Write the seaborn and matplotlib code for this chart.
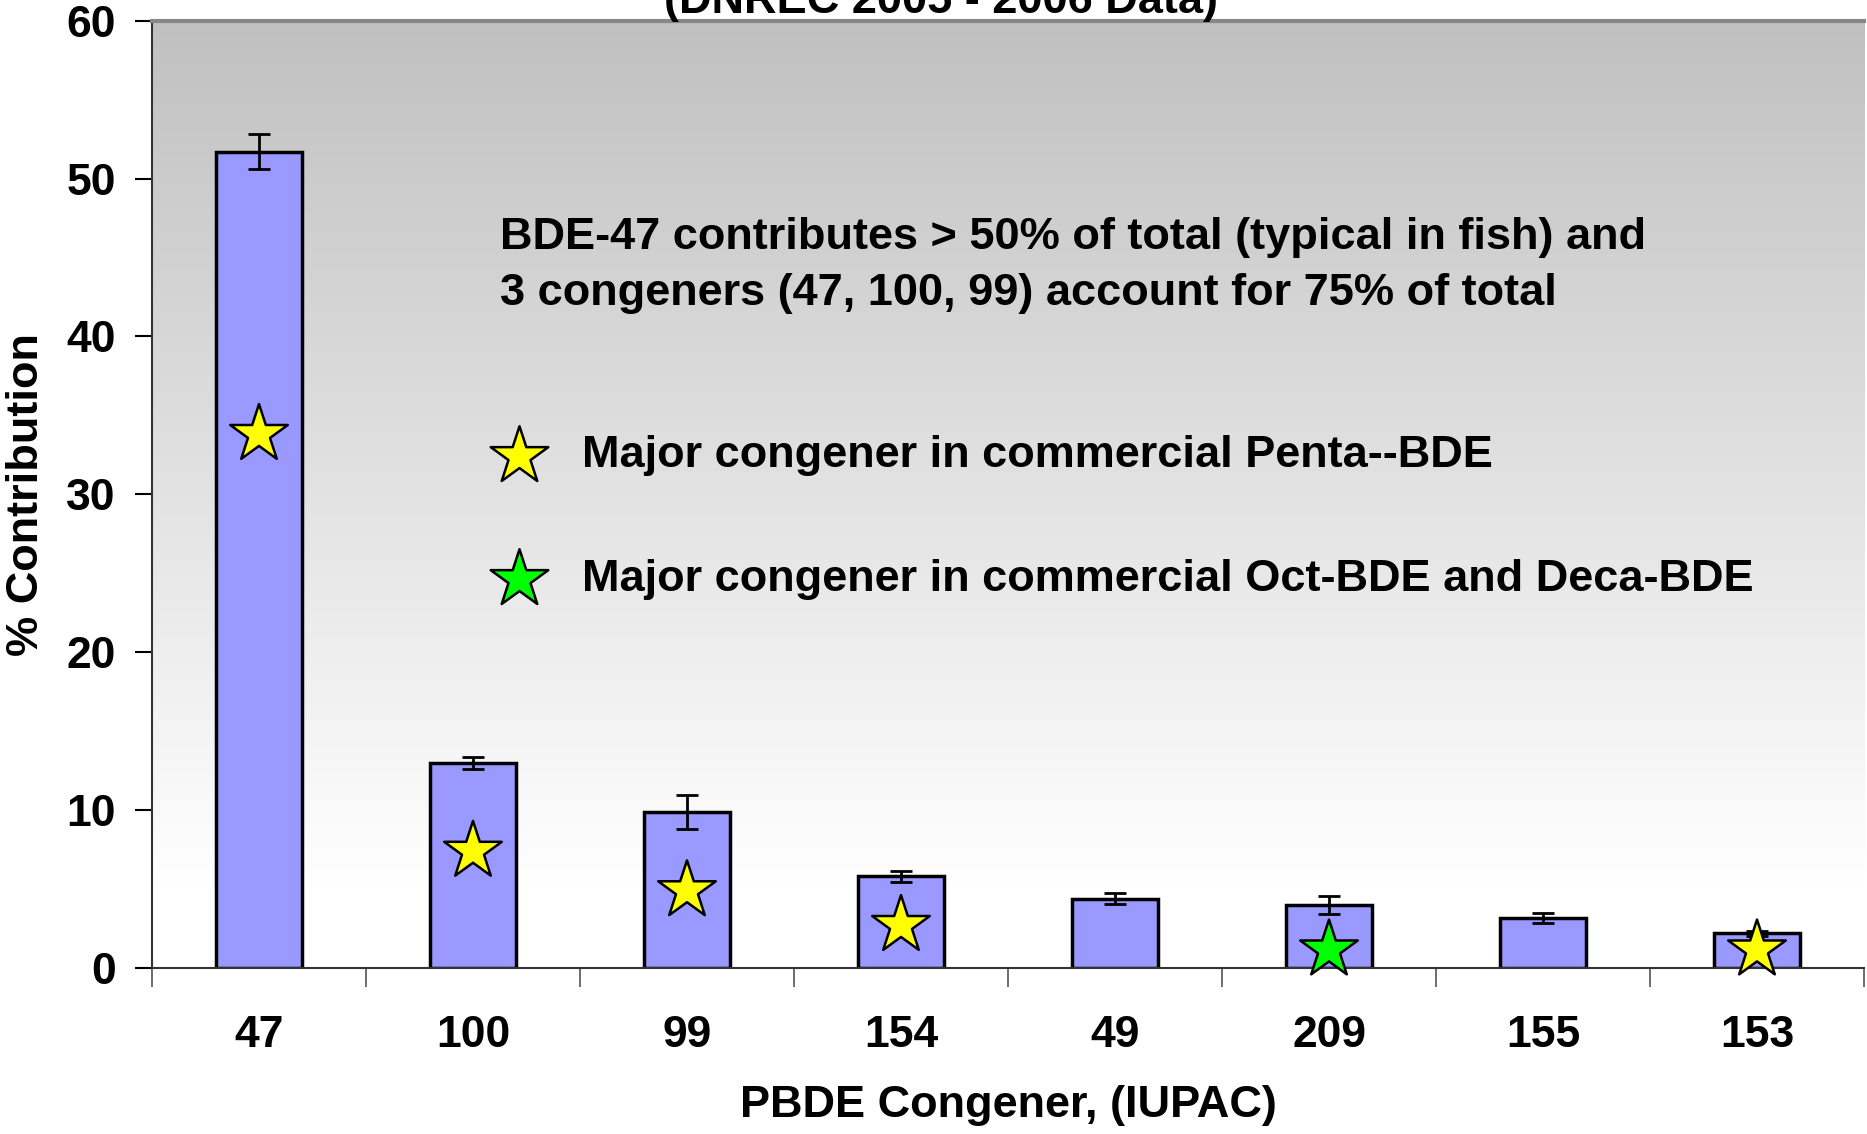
import numpy as np
import pandas as pd
import matplotlib
matplotlib.use("Agg")
import matplotlib.pyplot as plt
import seaborn as sns

congeners = ["47", "100", "99", "154", "49", "209", "155", "153"]
contribution = [51.7, 13.0, 9.9, 5.8, 4.4, 4.0, 3.15, 2.2]
error = [1.1, 0.37, 1.08, 0.35, 0.34, 0.58, 0.33, 0.15]
star_congeners = ["47", "100", "99", "154", "209", "153"]
star_values = [33.8, 7.4, 4.9, 2.7, 1.15, 1.15]
star_kind = ["Penta", "Penta", "Penta", "Penta", "OctaDeca", "Penta"]

sns.set_theme(style="white")
plt.rcParams['font.family'] = ['Liberation Sans', 'DejaVu Sans']
plt.rcParams['font.weight'] = 'bold'
plt.rcParams['text.color'] = 'black'
plt.rcParams['axes.labelcolor'] = 'black'
plt.rcParams['xtick.color'] = 'black'
plt.rcParams['ytick.color'] = 'black'

FS = 32.5

fig = plt.figure(figsize=(18.67, 11.34), dpi=100)
ax = fig.add_axes([152/1867, 1-968/1134, (1864-152)/1867, (968-20.7)/1134])

# gradient background
yy = np.linspace(60, 0, 600)
g = 192 + (255-192) * np.clip((60 - yy) / (60 - 5.3), 0, 1)
img = np.repeat(g[:, None], 2, axis=1) / 255.0
ax.imshow(np.dstack([img, img, img]), extent=[-0.5, 7.5, 0, 60], aspect='auto', zorder=0, interpolation='bilinear')

df = pd.DataFrame({"congener": congeners, "value": contribution})
sns.barplot(data=df, x="congener", y="value", order=congeners, color="#9999FF",
            width=0.4, edgecolor="black", linewidth=2.5, saturation=1, ax=ax, zorder=2)
for p in ax.patches:
    p.set_facecolor("#9999FF")

xpos = np.arange(len(congeners))
ax.errorbar(xpos, contribution, yerr=error, fmt='none', ecolor='black', elinewidth=2,
            capsize=8, capthick=2, zorder=3)

colors = {"Penta": "#FFFF00", "OctaDeca": "#00FF00"}
sx = [congeners.index(c) for c in star_congeners]
ax.scatter(sx, star_values, marker='*', s=1900, c=[colors[k] for k in star_kind],
           edgecolors='black', linewidths=1.8, zorder=4, clip_on=False)

ax.set_xlim(-0.5, 7.5)
ax.set_ylim(0, 60)
ax.set_yticks(range(0, 61, 10))
ax.set_xticks(xpos)
ax.set_xticklabels(congeners)
ax.set_xticks(np.arange(-0.5, 8, 1), minor=True)
ax.tick_params(axis='x', which='major', length=0, pad=34, labelsize=32, labelcolor='black')
ax.tick_params(axis='x', which='minor', length=14, width=1.2, color='#555555', direction='out', bottom=True)
ax.tick_params(axis='y', which='major', length=12, width=1.5, color='black', direction='out', left=True, pad=14, labelsize=32, labelcolor='black')
for lab in ax.get_xticklabels() + ax.get_yticklabels():
    lab.set_fontweight('bold')

for s in ['left', 'bottom']:
    ax.spines[s].set_visible(True)
    ax.spines[s].set_color('#333333')
    ax.spines[s].set_linewidth(1.5)
ax.spines['top'].set_visible(True)
ax.spines['top'].set_color('#888888')
ax.spines['top'].set_linewidth(3)
ax.spines['right'].set_visible(False)

ax.set_xlabel("PBDE Congener, (IUPAC)", fontsize=FS, fontweight='bold', color='black')
ax.set_ylabel("% Contribution", fontsize=FS, fontweight='bold', color='black')
ax.xaxis.set_label_coords(0.5, -(1105-968)/947.3)
ax.xaxis.label.set_va('center')
ax.yaxis.set_label_coords((27-152)/1712, 0.5)
ax.yaxis.label.set_va('center')

fig.text(941/1867, 1-13/1134, "(DNREC 2005 - 2006 Data)", ha='center', va='baseline',
         fontsize=FS, fontweight='bold', color='black')

ax.text((500-152)/1712, 1-(238-20.7)/947.3, "BDE-47 contributes > 50% of total (typical in fish) and",
        transform=ax.transAxes, fontsize=FS, fontweight='bold', va='center', ha='left', color='black')
ax.text((500-152)/1712, 1-(294-20.7)/947.3, "3 congeners (47, 100, 99) account for 75% of total",
        transform=ax.transAxes, fontsize=FS, fontweight='bold', va='center', ha='left', color='black')

ax.scatter([(519-152)/1712], [1-(456-20.7)/947.3], marker='*', s=1900, c="#FFFF00",
           edgecolors='black', linewidths=1.8, transform=ax.transAxes, zorder=5)
ax.scatter([(519-152)/1712], [1-(579-20.7)/947.3], marker='*', s=1900, c="#00FF00",
           edgecolors='black', linewidths=1.8, transform=ax.transAxes, zorder=5)
ax.text((582-152)/1712, 1-(456-20.7)/947.3, "Major congener in commercial Penta--BDE",
        transform=ax.transAxes, fontsize=FS, fontweight='bold', va='center', ha='left', color='black')
ax.text((582-152)/1712, 1-(579-20.7)/947.3, "Major congener in commercial Oct-BDE and Deca-BDE",
        transform=ax.transAxes, fontsize=FS, fontweight='bold', va='center', ha='left', color='black')

fig.savefig("out.png", dpi=100)
